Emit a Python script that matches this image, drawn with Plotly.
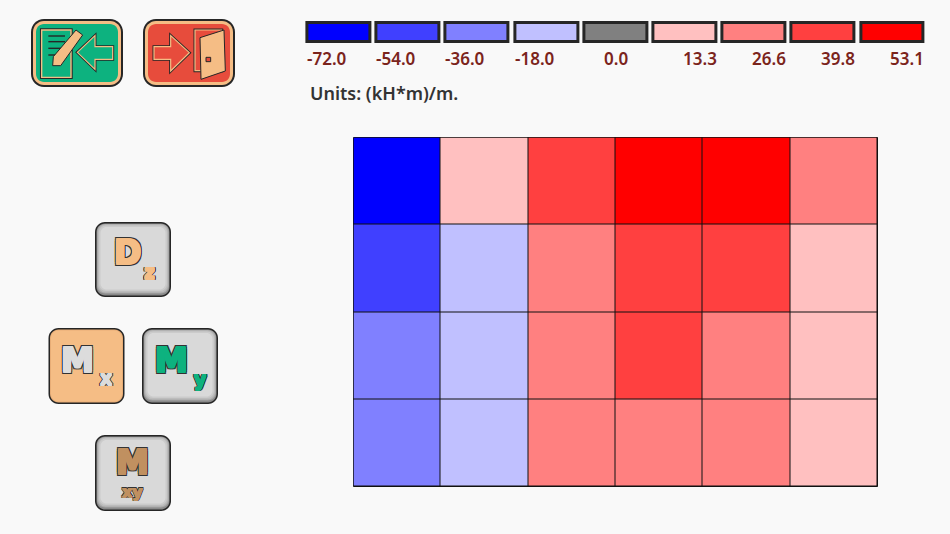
import plotly.graph_objects as go

# ---- data ----
level_values = [-72.0, -54.0, -36.0, -18.0, 0.0, 13.3, 26.6, 39.8, 53.1]
level_labels = ["-72.0", "-54.0", "-36.0", "-18.0", "0.0", "13.3", "26.6", "39.8", "53.1"]
level_colors = ["#0000ff", "#4040ff", "#8080ff", "#c0c0ff", "#808080",
                "#ffc0c0", "#ff8080", "#ff4040", "#ff0000"]
label_anchor = ["left", "left", "left", "left", "center", "right", "right", "right", "right"]
row_1 = [-72.0, 13.3, 39.8, 53.1, 53.1, 26.6]
row_2 = [-54.0, -18.0, 26.6, 39.8, 39.8, 13.3]
row_3 = [-36.0, -18.0, 26.6, 39.8, 26.6, 13.3]
row_4 = [-36.0, -18.0, 26.6, 26.6, 26.6, 13.3]
units_text = "Units: (kH*m)/m."

W, H = 950, 534
BG = "#f9f9f9"
DARK = "#262626"
TAN = "#f5bd85"
GREEN = "#0db27f"
RED = "#e74c3c"
LABEL = "#7b241c"


def fx(p):
    return p / W


def fy(p):
    return 1 - p / H


shapes = []


def rrect(x0, y0, x1, y1, r, fill, line=None, lw=0):
    k = 0.45 * r
    pts = [
        f"M{fx(x0 + r)},{fy(y0)}", f"L{fx(x1 - r)},{fy(y0)}",
        f"C{fx(x1 - k)},{fy(y0)} {fx(x1)},{fy(y0 + k)} {fx(x1)},{fy(y0 + r)}",
        f"L{fx(x1)},{fy(y1 - r)}",
        f"C{fx(x1)},{fy(y1 - k)} {fx(x1 - k)},{fy(y1)} {fx(x1 - r)},{fy(y1)}",
        f"L{fx(x0 + r)},{fy(y1)}",
        f"C{fx(x0 + k)},{fy(y1)} {fx(x0)},{fy(y1 - k)} {fx(x0)},{fy(y1 - r)}",
        f"L{fx(x0)},{fy(y0 + r)}",
        f"C{fx(x0)},{fy(y0 + k)} {fx(x0 + k)},{fy(y0)} {fx(x0 + r)},{fy(y0)}", "Z",
    ]
    shapes.append(dict(type="path", xref="paper", yref="paper", path=" ".join(pts),
                       fillcolor=fill, line=dict(color=line or fill, width=lw), layer="above"))


def poly(points, fill, line=DARK, lw=1.2, closed=True, scale=3.0):
    d = []
    for i, (x, y) in enumerate(points):
        d.append(("M" if i == 0 else "L") + f"{fx(x / scale)},{fy(y / scale)}")
    if closed:
        d.append("Z")
    shapes.append(dict(type="path", xref="paper", yref="paper", path=" ".join(d),
                       fillcolor=fill if closed else "rgba(0,0,0,0)",
                       line=dict(color=line, width=lw), layer="above"))


def icon_button(x0, y0, x1, y1, fill):
    rrect(x0, y0, x1, y1, 13, DARK)
    rrect(x0 + 2, y0 + 2, x1 - 2, y1 - 2, 11, TAN)
    rrect(x0 + 5, y0 + 5, x1 - 5, y1 - 5, 8, fill)


def key(x0, y0, x1, y1, active=False):
    rrect(x0, y0, x1, y1, 10, DARK)
    if active:
        rrect(x0 + 1.5, y0 + 1.5, x1 - 1.5, y1 - 1.5, 8.5, "#e8ad76")
        rrect(x0 + 2.5, y0 + 2.5, x1 - 2.5, y1 - 2.5, 7.5, TAN)
        return
    rrect(x0 + 1.5, y0 + 1.5, x1 - 1.5, y1 - 1.5, 8.5, "#8a8a8a")
    rrect(x0 + 2, y0 + 2, x1 - 2, y1 - 3.5, 8, "#a8a8a8")
    rrect(x0 + 3, y0 + 2.5, x1 - 3, y1 - 4.5, 7.5, "#bcbcbc")
    rrect(x0 + 4, y0 + 3.5, x1 - 4, y1 - 6, 7, "#cbcbcb")
    rrect(x0 + 5.5, y0 + 5, x1 - 5.5, y1 - 7.5, 6, "#d9d9d9")


# top-left action buttons
icon_button(31, 19, 123, 87, GREEN)
icon_button(143, 19, 235, 87, RED)

# document + pencil + left arrow (zoom-crop pixel outlines, scale 3)
doc = [(125, 90), (213, 90), (213, 232), (125, 232)]
poly(doc, GREEN, DARK, 3.4)
poly(doc, GREEN, TAN, 1.4)
for ly in (108, 125, 145, 165):
    poly([(145, ly), (195, ly)], GREEN, DARK, 1.4, closed=False)
poly([(228, 90), (248, 105), (182, 197), (158, 197), (160, 170)], TAN, DARK, 1.0)
left_arrow = [(232, 157), (285, 107), (285, 140), (338, 140), (338, 178), (285, 178), (285, 208)]
poly(left_arrow, GREEN, DARK, 3.0)
poly(left_arrow, GREEN, TAN, 1.2)

# right arrow + door
right_arrow = [(462, 140), (512, 140), (512, 107), (568, 158), (512, 213), (512, 178), (462, 178)]
poly(right_arrow, RED, DARK, 3.0)
poly(right_arrow, RED, TAN, 1.2)
frame = [(585, 90), (665, 90), (665, 212), (585, 212)]
poly(frame, RED, DARK, 3.0)
poly(frame, RED, TAN, 1.2)
poly([(600, 113), (672, 90), (676, 213), (603, 238)], TAN, DARK, 1.0)
poly([(618, 172), (632, 172), (632, 185), (618, 185)], RED, DARK, 1.0)

# moment keys
key(95, 222, 171, 297)
key(48.5, 328, 124.5, 404, active=True)
key(142, 328, 218, 404)
key(95, 435, 171, 511)

annotations = []


def ring(w, color):
    return [f"{a}px {b}px 0 {color}" for a, b in
            [(w, 0), (-w, 0), (0, w), (0, -w), (w, w), (-w, -w), (w, -w), (-w, w)]]


def glyph(text, cx, cy, size, color, fat=0.9, edge=1.9):
    annotations.append(dict(
        text=f"<b>{text}</b>", xref="paper", yref="paper", x=fx(cx), y=fy(cy), showarrow=False,
        xanchor="center", yanchor="middle", borderpad=0,
        font=dict(family="DejaVu Sans", size=size, color=color,
                  shadow=",".join(ring(fat, color) + ring(edge, "#333333")))))


glyph("D", 127, 253, 33, TAN)
glyph("z", 149, 272, 19, TAN, 0.6, 1.4)
glyph("M", 77, 360, 33, "#dcdcdc")
glyph("x", 106, 378, 19, "#dcdcdc", 0.6, 1.4)
glyph("M", 171, 360, 33, GREEN)
glyph("y", 200, 379, 19, GREEN, 0.6, 1.4)
glyph("M", 132, 462, 33, "#c09060")
glyph("xy", 132, 491, 16, "#c09060", 0.5, 1.2)

# heatmap
z = [row_1, row_2, row_3, row_4]
span = level_values[-1] - level_values[0]
colorscale = [[(v - level_values[0]) / span, c] for v, c in zip(level_values, level_colors)]

fig = go.Figure()
fig.add_trace(go.Heatmap(z=z, colorscale=colorscale, zmin=level_values[0], zmax=level_values[-1],
                         xgap=1, ygap=1, showscale=False, xaxis="x", yaxis="y"))

# legend swatches
fig.add_trace(go.Bar(x=list(range(len(level_values))), y=[1] * len(level_values),
                     width=0.91, marker=dict(color=level_colors, line=dict(color=DARK, width=3)),
                     xaxis="x2", yaxis="y2", cliponaxis=False, showlegend=False, hoverinfo="skip"))

half = 0.475
for i, label in enumerate(level_labels):
    offset = {"left": -half, "center": 0, "right": half}[label_anchor[i]]
    annotations.append(dict(text=label, xref="x2", yref="paper", x=i + offset, y=fy(58),
                            showarrow=False, xanchor=label_anchor[i], yanchor="middle", borderpad=0,
                            font=dict(family="Noto Sans", size=17, color=LABEL, weight=600)))

annotations.append(dict(text=units_text, xref="paper", yref="paper", x=fx(309), y=fy(93),
                        showarrow=False, xanchor="left", yanchor="middle", borderpad=0,
                        font=dict(family="Noto Sans", size=18, color="#333333", weight=600)))

# dark backing behind heatmap gaps
shapes.insert(0, dict(type="rect", xref="x domain", yref="y domain", x0=0, x1=1, y0=0, y1=1,
                      fillcolor="#111111", line=dict(color="#111111", width=1), layer="below"))

hidden = dict(showgrid=False, zeroline=False, showticklabels=False, ticks="", fixedrange=True)
fig.update_layout(
    width=W, height=H, autosize=False, margin=dict(l=0, r=0, t=0, b=0),
    paper_bgcolor=BG, plot_bgcolor="rgba(0,0,0,0)", showlegend=False, bargap=0,
    shapes=shapes, annotations=annotations,
    xaxis=dict(domain=[fx(353.5), fx(877.5)], range=[-0.5, 5.5], anchor="y", **hidden),
    yaxis=dict(domain=[fy(486.5), fy(137.5)], range=[3.5, -0.5], anchor="x", **hidden),
    xaxis2=dict(domain=[fx(304.4), fx(927)], range=[-0.5, 8.5], anchor="y2", **hidden),
    yaxis2=dict(domain=[fy(44), fy(20)], range=[-2.5 / 19, 1 + 2.5 / 19], anchor="x2", **hidden),
)

fig.write_html("out.html", config=dict(displayModeBar=False),
               post_script="document.body.style.margin='0';document.body.style.overflow='hidden';")
